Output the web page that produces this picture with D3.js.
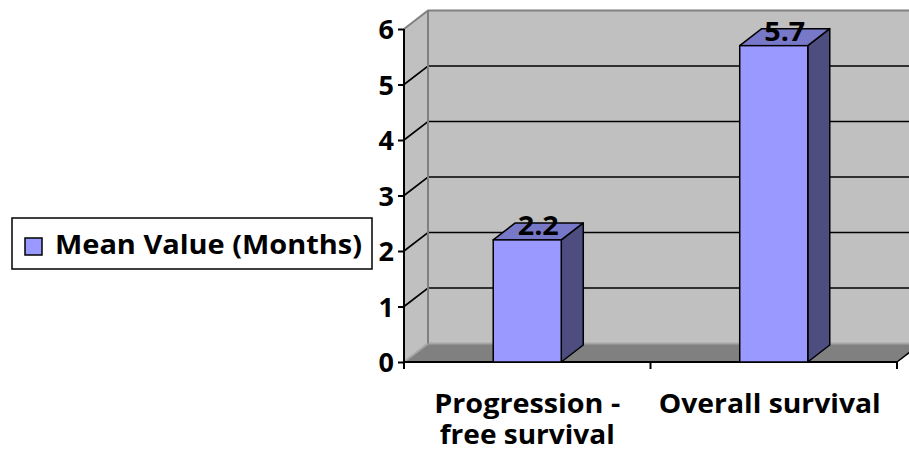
<!DOCTYPE html>
<html>
<head>
<meta charset="utf-8">
<script src="https://cdn.jsdelivr.net/npm/d3@7/dist/d3.min.js"></script>
<style>
  html, body { margin: 0; padding: 0; background: #ffffff; }
  svg { display: block; }
  text { font-family: "Open Sans", Lato, sans-serif; font-weight: bold; fill: #000; }
</style>
</head>
<body>
<svg id="chart" width="909" height="459"></svg>
<script>
// Chart data
const categories = ["Progression - free survival", "Overall survival"];
const categoryLines = [["Progression -", "free survival"], ["Overall survival"]];
const meanValues = [2.2, 5.7];
const yTicks = [0, 1, 2, 3, 4, 5, 6];
const seriesName = "Mean Value (Months)";

(function () {
  const svg = d3.select("#chart");
  const W = 909, H = 459;
  const FONT = 27;

  // Plot frame (front plane)
  const plotL = 404, plotR = 897, plotT = 29, plotB = 362;
  // Depth of walls and of the bar prisms
  const wallDx = 24, wallDy = -18.5;
  const barDx = 22, barDy = -17;

  const y = d3.scaleLinear().domain([0, 6]).range([plotB, plotT]);
  const x = d3.scaleBand().domain(categories).range([plotL, plotR])
    .paddingInner(0.724).paddingOuter(0.362);

  svg.append("defs").append("clipPath").attr("id", "clip")
    .append("rect").attr("x", 0).attr("y", 0).attr("width", W).attr("height", H);

  const g = svg.append("g").attr("clip-path", "url(#clip)");
  const pts = a => a.map(p => p.join(",")).join(" ");

  // Back wall
  g.append("polygon")
    .attr("points", pts([[plotL + wallDx, y(6) + wallDy], [plotR + wallDx, y(6) + wallDy],
                         [plotR + wallDx, y(0) + wallDy], [plotL + wallDx, y(0) + wallDy]]))
    .attr("fill", "#c0c0c0");
  // Side wall
  g.append("polygon")
    .attr("points", pts([[plotL, y(6)], [plotL + wallDx, y(6) + wallDy],
                         [plotL + wallDx, y(0) + wallDy], [plotL, y(0)]]))
    .attr("fill", "#c0c0c0");
  // Floor
  g.append("polygon")
    .attr("points", pts([[plotL, y(0)], [plotR, y(0)],
                         [plotR + wallDx, y(0) + wallDy], [plotL + wallDx, y(0) + wallDy]]))
    .attr("fill", "#808080");
  // Floor back and side edges
  g.append("polyline")
    .attr("points", pts([[plotL, y(0)], [plotL + wallDx, y(0) + wallDy], [plotR + wallDx, y(0) + wallDy]]))
    .attr("fill", "none").attr("stroke", "#a6a6a6").attr("stroke-width", 2);
  g.append("line")
    .attr("x1", plotR).attr("y1", y(0)).attr("x2", plotR + wallDx).attr("y2", y(0) + wallDy)
    .attr("stroke", "#000").attr("stroke-width", 1.5);

  // Gridlines: diagonal on the side wall, horizontal on the back wall
  yTicks.filter(v => v > 0 && v < 6).forEach(v => {
    g.append("polyline")
      .attr("points", pts([[plotL, y(v)], [plotL + wallDx, y(v) + wallDy], [plotR + wallDx, y(v) + wallDy]]))
      .attr("fill", "none").attr("stroke", "#000").attr("stroke-width", 1.6);
  });

  // Wall borders
  g.append("polyline")
    .attr("points", pts([[plotL, y(6)], [plotL + wallDx, y(6) + wallDy], [plotR + wallDx, y(6) + wallDy]]))
    .attr("fill", "none").attr("stroke", "#808080").attr("stroke-width", 2);
  g.append("line")
    .attr("x1", plotL + wallDx).attr("y1", y(6) + wallDy)
    .attr("x2", plotL + wallDx).attr("y2", y(0) + wallDy)
    .attr("stroke", "#808080").attr("stroke-width", 2);

  // Axis lines
  g.append("line").attr("x1", plotL).attr("y1", y(6)).attr("x2", plotL).attr("y2", y(0))
    .attr("stroke", "#000").attr("stroke-width", 2);
  g.append("line").attr("x1", plotL - 1).attr("y1", y(0)).attr("x2", plotR).attr("y2", y(0))
    .attr("stroke", "#000").attr("stroke-width", 2);

  const yAxis = d3.axisLeft(y).tickValues(yTicks).tickFormat(d3.format("d"))
    .tickSize(6).tickPadding(4);
  const yAxisG = svg.append("g").attr("transform", `translate(${plotL},0)`).call(yAxis);
  yAxisG.select(".domain").remove();
  yAxisG.selectAll(".tick line").attr("stroke", "#000").attr("stroke-width", 2);
  yAxisG.selectAll(".tick text")
    .attr("font-family", "'Open Sans', sans-serif").attr("font-weight", "bold")
    .attr("font-size", FONT).attr("fill", "#000").attr("dy", "0.36em");

  // Category boundary ticks
  const mid = (x(categories[0]) + x.bandwidth() + x(categories[1])) / 2;
  [plotL, mid, plotR].forEach(bx => {
    g.append("line").attr("x1", bx).attr("y1", y(0)).attr("x2", bx).attr("y2", y(0) + 7)
      .attr("stroke", "#000").attr("stroke-width", 2);
  });

  // Bars as prisms
  const barData = meanValues.map((v, i) => ({ v, c: categories[i] }));
  g.selectAll("g.bar").data(barData).enter().append("g").attr("class", "bar")
    .each(function (d) {
      const b = d3.select(this);
      const x0 = x(d.c), x1 = x0 + x.bandwidth();
      const yt = y(d.v), yb = y(0);
      b.append("polygon")
        .attr("points", pts([[x1, yb], [x1, yt], [x1 + barDx, yt + barDy], [x1 + barDx, yb + barDy]]))
        .attr("fill", "#4d4d80").attr("stroke", "#000").attr("stroke-width", 1.5).attr("stroke-linejoin", "round");
      b.append("polygon")
        .attr("points", pts([[x0, yt], [x1, yt], [x1 + barDx, yt + barDy], [x0 + barDx, yt + barDy]]))
        .attr("fill", "#7878c8").attr("stroke", "#000").attr("stroke-width", 1.5).attr("stroke-linejoin", "round");
      b.append("rect")
        .attr("x", x0).attr("y", yt).attr("width", x.bandwidth()).attr("height", yb - yt)
        .attr("fill", "#9999ff").attr("stroke", "#000").attr("stroke-width", 1.5);
    });

  // Value labels
  svg.selectAll("text.val").data(barData).enter().append("text").attr("class", "val")
    .attr("x", d => x(d.c) + x.bandwidth() / 2 + barDx / 2)
    .attr("y", d => y(d.v) - 5)
    .attr("text-anchor", "middle")
    .attr("font-size", FONT)
    .attr("textLength", 41).attr("lengthAdjust", "spacingAndGlyphs")
    .text(d => d3.format(".1f")(d.v));

  // Category labels
  const lineWidths = [[186, 175], [222]];
  categoryLines.forEach((lines, i) => {
    const cx = x(categories[i]) + x.bandwidth() / 2;
    lines.forEach((ln, j) => {
      svg.append("text")
        .attr("x", cx + (i === 1 ? -4 : 0)).attr("y", 413 + j * 31)
        .attr("text-anchor", "middle")
        .attr("font-size", FONT)
        .attr("textLength", lineWidths[i][j]).attr("lengthAdjust", "spacingAndGlyphs")
        .text(ln);
    });
  });

  // Legend
  const lg = svg.append("g");
  lg.append("rect").attr("x", 12).attr("y", 218).attr("width", 360).attr("height", 51)
    .attr("fill", "#fff").attr("stroke", "#000").attr("stroke-width", 1.5);
  lg.append("rect").attr("x", 25).attr("y", 238).attr("width", 17).attr("height", 17)
    .attr("fill", "#9999ff").attr("stroke", "#000").attr("stroke-width", 1.5);
  lg.append("text").attr("x", 55).attr("y", 254).attr("font-size", FONT)
    .attr("textLength", 307).attr("lengthAdjust", "spacingAndGlyphs")
    .text(seriesName);
})();
</script>
</body>
</html>
